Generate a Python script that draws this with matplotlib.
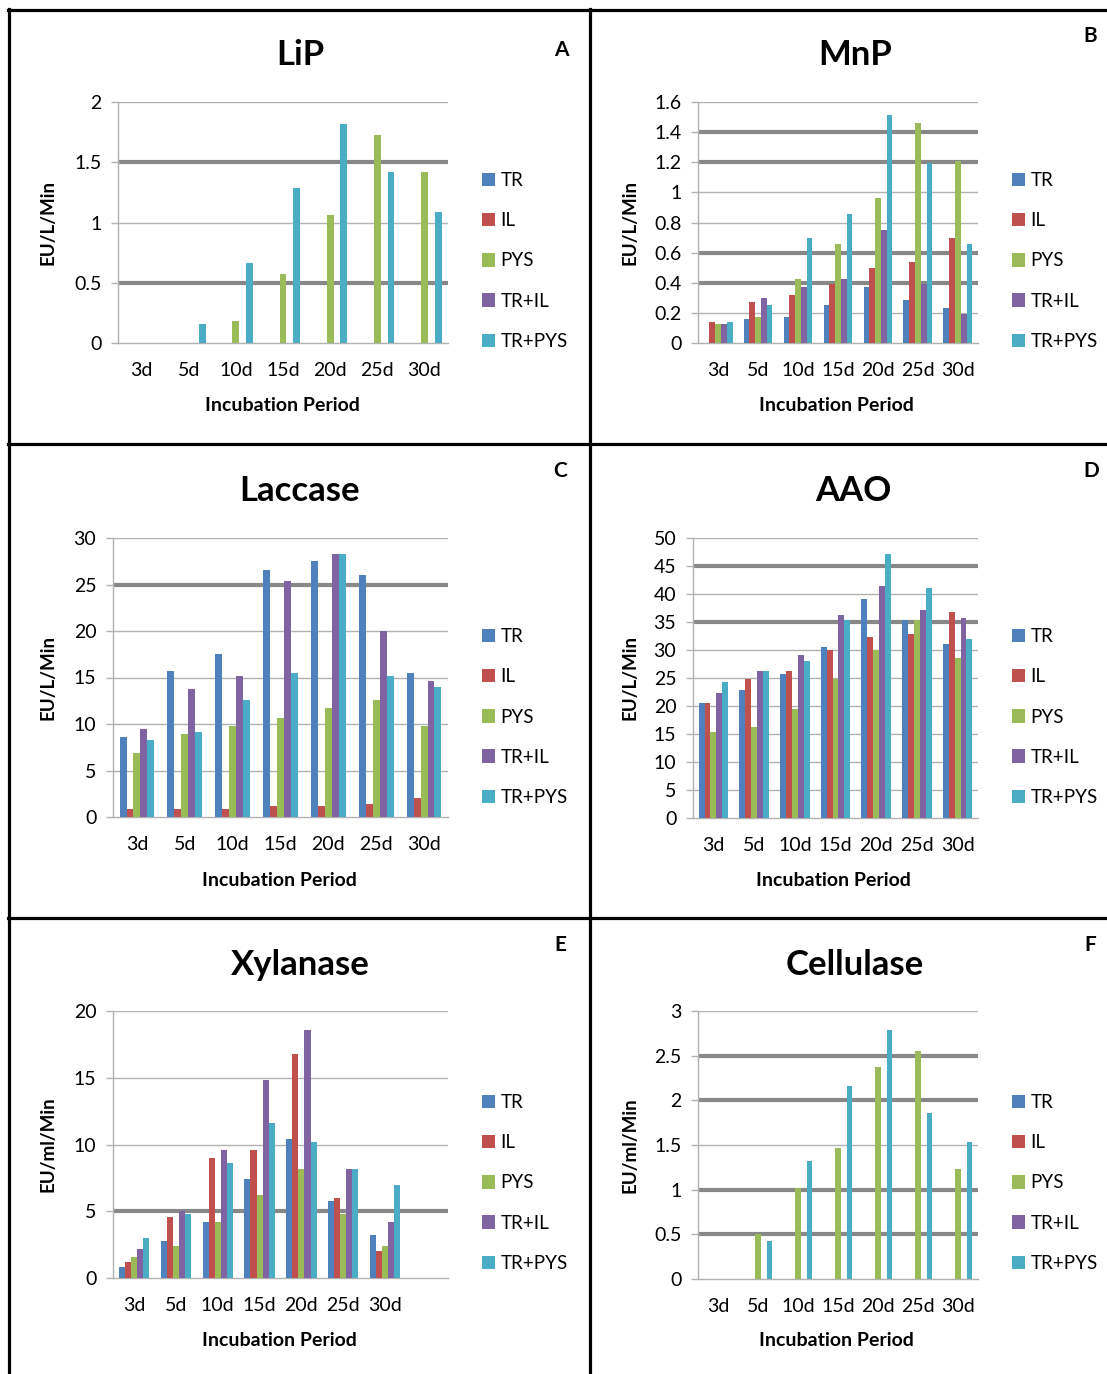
import numpy as np
import matplotlib
matplotlib.use("Agg")
import matplotlib.pyplot as plt
from matplotlib.lines import Line2D

plt.rcParams['font.family'] = ['Lato', 'DejaVu Sans']

# ---- data ----
days = ["3d", "5d", "10d", "15d", "20d", "25d", "30d"]
series = ["TR", "IL", "PYS", "TR+IL", "TR+PYS"]

lip_tr = [0, 0, 0, 0, 0, 0, 0]
lip_il = [0, 0, 0, 0, 0, 0, 0]
lip_pys = [0, 0, 0.18, 0.575, 1.065, 1.73, 1.42]
lip_tril = [0, 0, 0, 0, 0, 0, 0]
lip_trpys = [0, 0.155, 0.665, 1.285, 1.82, 1.42, 1.085]

mnp_tr = [0, 0.16, 0.175, 0.25, 0.375, 0.285, 0.23]
mnp_il = [0.14, 0.27, 0.32, 0.395, 0.50, 0.535, 0.695]
mnp_pys = [0.125, 0.175, 0.425, 0.66, 0.96, 1.46, 1.21]
mnp_tril = [0.125, 0.30, 0.375, 0.425, 0.75, 0.39, 0.195]
mnp_trpys = [0.14, 0.25, 0.695, 0.855, 1.515, 1.195, 0.66]

lac_tr = [8.6, 15.7, 17.5, 26.6, 27.5, 26.0, 15.5]
lac_il = [0.9, 0.9, 0.9, 1.15, 1.15, 1.45, 2.0]
lac_pys = [6.9, 8.9, 9.75, 10.6, 11.7, 12.6, 9.75]
lac_tril = [9.5, 13.8, 15.2, 25.4, 28.3, 20.0, 14.6]
lac_trpys = [8.3, 9.15, 12.6, 15.5, 28.3, 15.2, 14.0]

aao_tr = [20.5, 22.9, 25.8, 30.5, 39.1, 35.3, 31.0]
aao_il = [20.5, 24.8, 26.2, 30.0, 32.4, 32.9, 36.7]
aao_pys = [15.3, 16.2, 19.5, 24.8, 30.0, 35.3, 28.6]
aao_tril = [22.4, 26.2, 29.1, 36.2, 41.5, 37.2, 35.8]
aao_trpys = [24.3, 26.2, 28.1, 35.3, 47.2, 41.0, 31.9]

xyl_tr = [0.8, 2.8, 4.2, 7.4, 10.4, 5.8, 3.2]
xyl_il = [1.2, 4.6, 9.0, 9.6, 16.8, 6.0, 2.0]
xyl_pys = [1.6, 2.4, 4.2, 6.2, 8.2, 4.8, 2.4]
xyl_tril = [2.2, 5.0, 9.6, 14.8, 18.6, 8.2, 4.2]
xyl_trpys = [3.0, 4.8, 8.6, 11.6, 10.2, 8.2, 7.0]

cel_tr = [0, 0, 0, 0, 0, 0, 0]
cel_il = [0, 0, 0, 0, 0, 0, 0]
cel_pys = [0, 0.50, 1.02, 1.47, 2.37, 2.55, 1.23]
cel_tril = [0, 0, 0, 0, 0, 0, 0]
cel_trpys = [0, 0.42, 1.32, 2.16, 2.79, 1.86, 1.53]

# ---- style ----
W, H = 1107, 1374
colors = ["#4F81BD", "#C0504D", "#9BBB59", "#8064A2", "#4BACC6"]
THIN = "#B2B2B2"
THICK = "#888888"

fig = plt.figure(figsize=(W / 100, H / 100), dpi=100)


def fx(x):
    return x / W


def fy(y):
    return 1 - y / H


def panel(box, data, title, letter, ylabel, ymax, step, thick, ncat,
          title_xy, letter_xy, xlab_xy, ylab_x, leg_xy):
    l, t, r, b = box
    ax = fig.add_axes([fx(l), fy(b), (r - l) / W, (b - t) / H])
    x = np.arange(len(days))
    w = 0.145
    for i, vals in enumerate(data):
        ax.bar(x + (i - 2) * w, vals, w, color=colors[i], label=series[i],
               zorder=3, linewidth=0)
    ax.set_xlim(-0.5, ncat - 0.5)
    ax.set_ylim(0, ymax)
    ticks = np.arange(0, ymax + step / 2, step)
    ax.set_yticks(ticks)
    ax.set_yticklabels(["{:g}".format(v) for v in ticks])
    for v in ticks[1:]:
        if any(np.isclose(v, thick)):
            ax.axhline(v, color=THICK, lw=3, zorder=1)
        else:
            ax.axhline(v, color=THIN, lw=1, zorder=1)
    ax.set_xticks(x)
    ax.set_xticklabels(days)
    for s in ["top", "right"]:
        ax.spines[s].set_visible(False)
    for s in ["left", "bottom"]:
        ax.spines[s].set_color(THIN)
        ax.spines[s].set_linewidth(1)
    ax.tick_params(axis="y", length=5, width=1, color=THIN, labelsize=14, pad=7)
    ax.tick_params(axis="x", length=0, labelsize=14, pad=14)

    fig.text(fx(title_xy[0]), fy(title_xy[1] + 3), title, fontsize=25,
             fontweight="bold", ha="center", va="center")
    fig.text(fx(letter_xy[0]), fy(letter_xy[1]), letter, fontsize=15,
             fontweight="bold", ha="center", va="center")
    fig.text(fx(xlab_xy[0]), fy(xlab_xy[1]), "Incubation Period", fontsize=14,
             fontweight="bold", ha="center", va="center")
    fig.text(fx(ylab_x), fy((t + b) / 2), ylabel, fontsize=13.5,
             fontweight="bold", ha="center", va="center", rotation=90)

    ax.legend(loc="center left", bbox_to_anchor=(fx(leg_xy[0]), fy(leg_xy[1])),
              bbox_transform=fig.transFigure, frameon=False, fontsize=13.5,
              handlelength=0.7, handleheight=0.7, handletextpad=0.3,
              labelspacing=1.23, borderpad=0, borderaxespad=0)
    return ax


panel((118, 102, 448, 343), [lip_tr, lip_il, lip_pys, lip_tril, lip_trpys],
      "LiP", "A", "EU/L/Min", 2, 0.5, [0.5, 1.5], 7,
      (300, 52), (561, 50), (282, 405), 48, (482, 261))
panel((698, 102, 978, 343), [mnp_tr, mnp_il, mnp_pys, mnp_tril, mnp_trpys],
      "MnP", "B", "EU/L/Min", 1.6, 0.2, [0.4, 0.6, 1.2, 1.4], 7,
      (855, 52), (1090, 36), (836, 405), 630, (1012, 261))
panel((113, 538, 448, 817), [lac_tr, lac_il, lac_pys, lac_tril, lac_trpys],
      "Laccase", "C", "EU/L/Min", 30, 5, [25], 7,
      (300, 488), (560, 471), (279, 880), 48, (482, 717))
panel((693, 538, 978, 818), [aao_tr, aao_il, aao_pys, aao_tril, aao_trpys],
      "AAO", "D", "EU/L/Min", 50, 5, [35, 45], 7,
      (853, 488), (1091, 471), (833, 880), 630, (1012, 717))
panel((113, 1011, 448, 1278), [xyl_tr, xyl_il, xyl_pys, xyl_tril, xyl_trpys],
      "Xylanase", "E", "EU/ml/Min", 20, 5, [5], 8,
      (300, 962), (560, 945), (279, 1341), 48, (482, 1183))
panel((698, 1011, 978, 1279), [cel_tr, cel_il, cel_pys, cel_tril, cel_trpys],
      "Cellulase", "F", "EU/ml/Min", 3, 0.5, [0.5, 1, 2, 2.5], 7,
      (855, 962), (1090, 945), (836, 1341), 630, (1012, 1183))

# table borders
lw = 2.3
for y in [10, 444, 918]:
    fig.add_artist(Line2D([fx(8), 1], [fy(y), fy(y)], color="black", lw=lw))
for x in [9, 590]:
    fig.add_artist(Line2D([fx(x), fx(x)], [fy(9), 0], color="black", lw=lw))

fig.savefig("out.png", dpi=100)
